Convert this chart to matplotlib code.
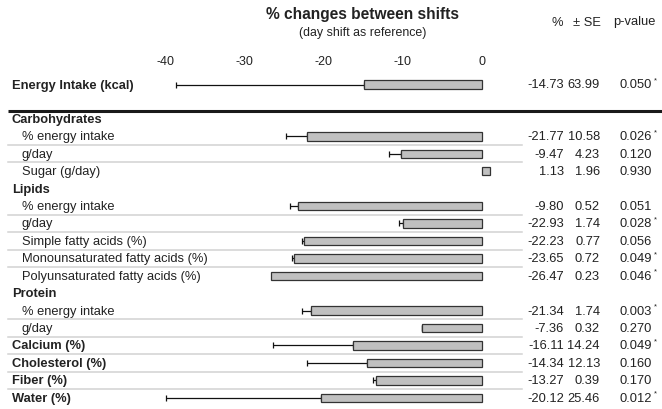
import matplotlib
matplotlib.use("Agg")
import matplotlib.pyplot as plt
import numpy as np

plt.rcParams['font.family'] = ['Liberation Sans', 'DejaVu Sans']

# ---------------- data ----------------
energy_label = "Energy Intake (kcal)"
energy_bar = -14.9
energy_err = 23.8
energy_pct = "-14.73"
energy_se = "63.99"
energy_p = "0.050"
energy_sig = True

row_labels = ["Carbohydrates", "% energy intake", "g/day", "Sugar (g/day)",
              "Lipids", "% energy intake", "g/day", "Simple fatty acids (%)",
              "Monounsaturated fatty acids (%)", "Polyunsaturated fatty acids (%)",
              "Protein", "% energy intake", "g/day",
              "Calcium (%)", "Cholesterol (%)", "Fiber (%)", "Water (%)"]
row_kind = ["head", "sub", "sub", "sub",
            "head", "sub", "sub", "sub", "sub", "sub",
            "head", "sub", "sub",
            "item", "item", "item", "item"]
bar_values = [None, -22.1, -10.2, 1.05,
              None, -23.2, -9.9, -22.5, -23.8, -26.7,
              None, -21.6, -7.5,
              -16.3, -14.5, -13.4, -20.4]
err_lower = [None, 2.7, 1.5, 0.0,
             None, 1.1, 0.6, 0.3, 0.2, 0.0,
             None, 1.1, 0.1,
             10.1, 7.6, 0.4, 19.6]
pct_text = [None, "-21.77", "-9.47", "1.13",
            None, "-9.80", "-22.93", "-22.23", "-23.65", "-26.47",
            None, "-21.34", "-7.36",
            "-16.11", "-14.34", "-13.27", "-20.12"]
se_text = [None, "10.58", "4.23", "1.96",
           None, "0.52", "1.74", "0.77", "0.72", "0.23",
           None, "1.74", "0.32",
           "14.24", "12.13", "0.39", "25.46"]
p_text = [None, "0.026", "0.120", "0.930",
          None, "0.051", "0.028", "0.056", "0.049", "0.046",
          None, "0.003", "0.270",
          "0.049", "0.160", "0.170", "0.012"]
significant = [False, True, False, False,
               False, False, True, False, True, True,
               False, True, False,
               True, False, False, True]
separator_below = [False, True, True, False,
                   False, True, True, True, True, False,
                   False, True, True,
                   True, True, True, False]
tick_values = [-40, -30, -20, -10, 0]
tick_labels = ["-40", "-30", "-20", "-10", "0"]

# ---------------- layout (pixel based) ----------------
W, H = 662, 410
fig = plt.figure(figsize=(W / 100, H / 100), dpi=100)
ax = fig.add_axes([0, 0, 1, 1])
ax.set_xlim(0, W)
ax.set_ylim(H, 0)
ax.axis('off')

X0 = 481.7      # pixel of value 0
PXU = 7.9       # pixels per unit
def xs(v):
    return X0 + v * PXU

ROW0 = 119.9
DY = 17.43
energy_y = 85.5
row_y = [ROW0 + DY * i for i in range(len(row_labels))]

FS = 9.3
bar_h = 8.5
bar_fc = '#c0c0c0'
bar_ec = '#333333'

def draw_bar(y, v, e):
    left = min(0, v)
    ax.barh(y, width=abs(v) * PXU, left=xs(left), height=bar_h,
            color=bar_fc, edgecolor=bar_ec, linewidth=0.9, zorder=3)
    if e and e > 0:
        ax.errorbar(xs(v), y, xerr=[[e * PXU], [0]], fmt='none',
                    ecolor='#111111', elinewidth=0.9, capsize=2.2,
                    capthick=0.9, zorder=2)

def draw_nums(y, pc, se, p, sig):
    ax.text(564, y, pc, ha='right', va='center', fontsize=FS, color='#222222')
    ax.text(600, y, se, ha='right', va='center', fontsize=FS, color='#222222')
    ax.text(652, y, p, ha='right', va='center', fontsize=FS, color='#222222')
    if sig:
        ax.text(653.5, y - 4.5, "*", ha='left', va='center', fontsize=5.5,
                color='#222222')

# Title / header
ax.text(363, 15, "% changes between shifts", ha='center', va='center',
        fontsize=11.2, fontweight='bold', color='#222222')
ax.text(363, 33, "(day shift as reference)", ha='center', va='center',
        fontsize=FS - 0.4, color='#222222')
ax.text(557, 22.5, "%", ha='center', va='center', fontsize=FS, color='#222222')
ax.text(587, 22.5, "± SE", ha='center', va='center', fontsize=FS, color='#222222')
ax.text(656, 22.5, "p-value", ha='right', va='center', fontsize=FS, color='#222222')

# Tick labels
for tv, tl in zip(tick_values, tick_labels):
    ax.text(xs(tv), 62, tl, ha='center', va='center', fontsize=FS - 0.3,
            color='#222222')

# Energy row
ax.text(12, energy_y, energy_label, ha='left', va='center', fontsize=FS,
        fontweight='bold', color='#222222')
draw_bar(energy_y, energy_bar, energy_err)
draw_nums(energy_y, energy_pct, energy_se, energy_p, energy_sig)

# thick rule
ax.plot([8, W], [111.5, 111.5], color='#1a1a1a', linewidth=2.2,
        solid_capstyle='butt')

for i, lab in enumerate(row_labels):
    y = row_y[i]
    kind = row_kind[i]
    if kind == 'sub':
        ax.text(22, y, lab, ha='left', va='center', fontsize=FS, color='#222222')
    else:
        ax.text(12, y, lab, ha='left', va='center', fontsize=FS,
                fontweight='bold', color='#222222')
    if bar_values[i] is not None:
        draw_bar(y, bar_values[i], err_lower[i])
        draw_nums(y, pct_text[i], se_text[i], p_text[i], significant[i])
    if separator_below[i]:
        ax.plot([8, 522], [y + DY / 2, y + DY / 2], color='#d2d2d2',
                linewidth=1.1, zorder=1)

fig.savefig("out.png", dpi=100)
